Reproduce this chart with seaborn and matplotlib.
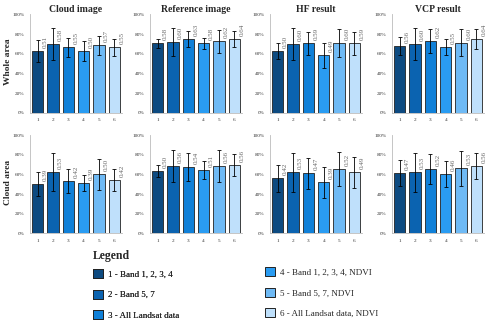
import numpy as np
import pandas as pd
import seaborn as sns
import matplotlib.pyplot as plt
from matplotlib.patches import Patch
from matplotlib.ticker import PercentFormatter

# bar categories
groups = ['1', '2', '3', '4', '5', '6']
legend_labels = ['1 - Band 1, 2, 3, 4', '2 - Band 5, 7', '3 - All Landsat data',
                 '4 - Band 1, 2, 3, 4, NDVI', '5 - Band 5, 7, NDVI', '6 - All Landsat data, NDVI']
col_titles = ['Cloud image', 'Reference image', 'HF result', 'VCP result']
row_titles = ['Whole area', 'Cloud area']

# whole area (%)
cloud_whole = [62.5, 70.0, 66.5, 62.5, 68.5, 66.5]
cloud_whole_err = [11, 16, 10, 10, 10, 9]
cloud_whole_lbl = ['0.51', '0.58', '0.55', '0.50', '0.57', '0.55']
ref_whole = [70.5, 71.8, 74.9, 70.5, 72.6, 74.9]
ref_whole_err = [5, 14, 8, 6, 12, 8]
ref_whole_lbl = ['0.58', '0.60', '0.63', '0.58', '0.62', '0.64']
hf_whole = [62.7, 70.0, 70.5, 58.3, 71.1, 70.5]
hf_whole_err = [8, 16, 12, 13, 14, 12]
hf_whole_lbl = ['0.50', '0.60', '0.59', '0.49', '0.60', '0.59']
vcp_whole = [67.8, 70.0, 72.9, 66.8, 71.4, 74.9]
vcp_whole_err = [9, 16, 12, 8, 14, 10]
vcp_whole_lbl = ['0.56', '0.60', '0.62', '0.55', '0.60', '0.64']

# cloud area (%)
cloud_cloud = [50.0, 62.4, 53.3, 51.3, 60.1, 54.3]
cloud_cloud_err = [12, 19, 12, 8, 16, 11]
cloud_cloud_lbl = ['0.39', '0.53', '0.42', '0.39', '0.50', '0.42']
ref_cloud = [63.8, 68.8, 67.5, 64.8, 68.5, 69.5]
ref_cloud_err = [6, 16, 14, 9, 16, 11]
ref_cloud_lbl = ['0.50', '0.56', '0.54', '0.51', '0.56', '0.56']
hf_cloud = [56.0, 62.1, 61.1, 52.0, 65.5, 62.1]
hf_cloud_err = [14, 20, 16, 16, 17, 16]
hf_cloud_lbl = ['0.42', '0.53', '0.47', '0.39', '0.52', '0.49']
vcp_cloud = [61.4, 62.1, 65.5, 60.7, 66.2, 68.8]
vcp_cloud_err = [13, 20, 15, 13, 18, 13]
vcp_cloud_lbl = ['0.47', '0.53', '0.52', '0.46', '0.53', '0.56']

colors = ['#0d4a80', '#0b63b0', '#1080d8', '#2a9cf2', '#6fbaf5', '#bfe0fb']

panels = [
    [(cloud_whole, cloud_whole_err, cloud_whole_lbl), (ref_whole, ref_whole_err, ref_whole_lbl),
     (hf_whole, hf_whole_err, hf_whole_lbl), (vcp_whole, vcp_whole_err, vcp_whole_lbl)],
    [(cloud_cloud, cloud_cloud_err, cloud_cloud_lbl), (ref_cloud, ref_cloud_err, ref_cloud_lbl),
     (hf_cloud, hf_cloud_err, hf_cloud_lbl), (vcp_cloud, vcp_cloud_err, vcp_cloud_lbl)],
]

sns.set_style('white')
plt.rcParams['font.family'] = ['Liberation Serif', 'DejaVu Serif']

fig = plt.figure(figsize=(4.9, 3.27), dpi=100)
lefts = [0.061, 0.306, 0.551, 0.80]
bottoms = [0.655, 0.286]
w, h = 0.188, 0.301

for r in range(2):
    for c in range(4):
        vals, errs, lbls = panels[r][c]
        ax = fig.add_axes([lefts[c], bottoms[r], w, h])
        df = pd.DataFrame({'group': groups, 'value': vals})
        sns.barplot(data=df, x='group', y='value', hue='group', palette=colors, saturation=1,
                    legend=False, width=0.73, edgecolor='#222222', linewidth=0.6, ax=ax)
        ax.errorbar(np.arange(6), vals, yerr=errs, fmt='none', ecolor='black',
                    elinewidth=0.6, capsize=1.2, capthick=0.6)
        for i, (v, t) in enumerate(zip(vals, lbls)):
            ax.text(i + 0.5, v + 3, t, rotation=90, ha='center', va='bottom',
                    fontsize=5, color='#666666')
        ax.set_xlim(-0.5, 5.5)
        ax.set_ylim(0, 100)
        ax.set_yticks([0, 20, 40, 60, 80, 100])
        ax.yaxis.set_major_formatter(PercentFormatter(decimals=0))
        ax.tick_params(axis='both', labelsize=3.8, length=0, pad=4, colors='#333333')
        ax.set_xlabel('')
        ax.set_ylabel('')
        for s in ['top', 'right']:
            ax.spines[s].set_visible(False)
        ax.spines['left'].set_color('#bbbbbb')
        ax.spines['bottom'].set_color('#bbbbbb')
        ax.spines['left'].set_linewidth(0.6)
        ax.spines['bottom'].set_linewidth(0.6)
        if r == 0:
            ax.set_title(col_titles[c], fontsize=7, fontweight='bold', pad=2)
    fig.text(0.017, bottoms[r] + h * 0.52, row_titles[r], rotation=90, fontsize=6.8,
             fontweight='bold', ha='center', va='center')

fig.text(0.228, 0.218, 'Legend', fontsize=8.5, fontweight='bold', ha='center', va='center')
handles = [Patch(facecolor=col, edgecolor='#222222', linewidth=0.7) for col in colors]
leg1 = fig.legend(handles[:3], legend_labels[:3], loc='upper left', bbox_to_anchor=(0.19, 0.177),
                  frameon=False, fontsize=6.5, handlelength=1.1, handleheight=1.2,
                  labelspacing=1.2, handletextpad=0.5, borderaxespad=0, borderpad=0)
leg2 = fig.legend(handles[3:], legend_labels[3:], loc='upper left', bbox_to_anchor=(0.541, 0.183),
                  frameon=False, fontsize=6.5, handlelength=1.1, handleheight=1.2,
                  labelspacing=1.2, handletextpad=0.5, borderaxespad=0, borderpad=0)
fig.add_artist(leg1)

fig.savefig('out.png', dpi=100)
plt.close(fig)
